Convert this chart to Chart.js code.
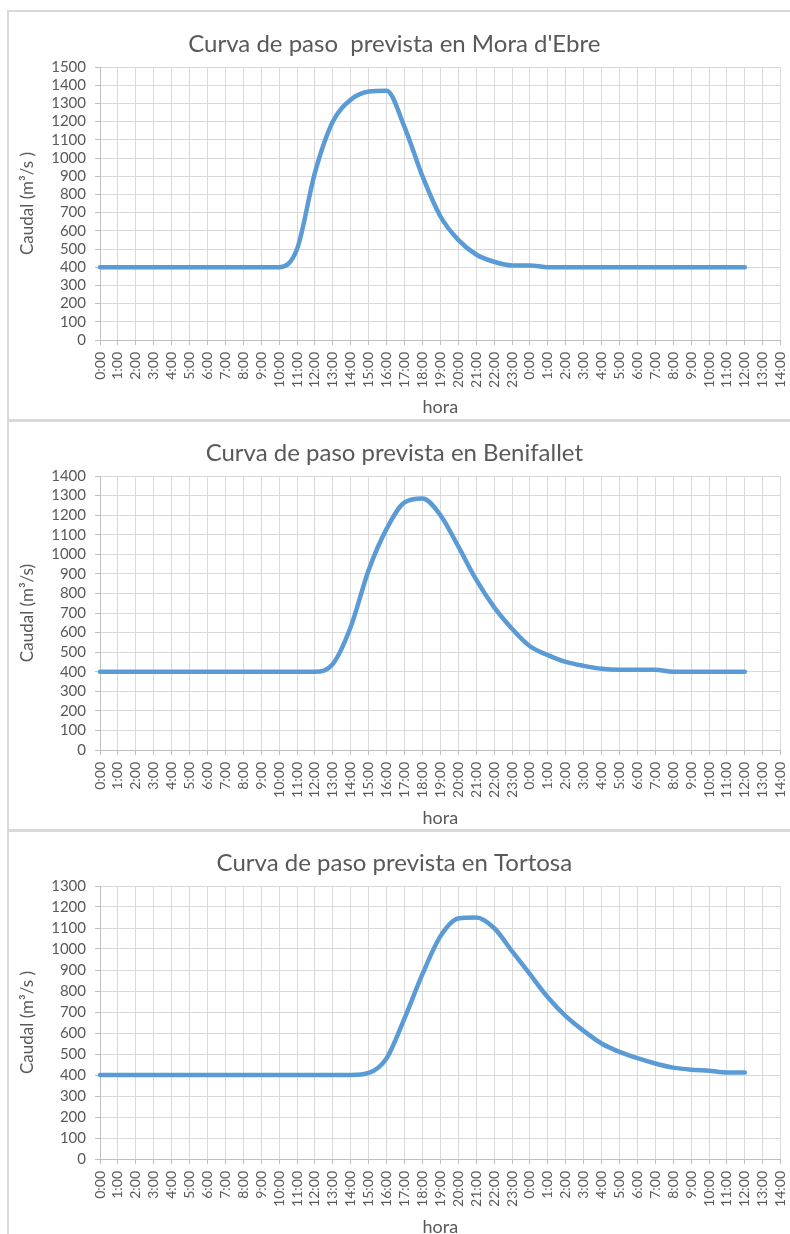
<!DOCTYPE html>
<html>
<head>
<meta charset="utf-8">
<script src="https://cdn.jsdelivr.net/npm/chart.js@4.4.1/dist/chart.umd.min.js"></script>
<style>
  html, body { margin: 0; padding: 0; background: #fff; overflow: hidden; }
  body { width: 790px; height: 1234px; position: relative; }
  .box { position: absolute; left: 7px; width: 800px; border: 2px solid #d9d9d9; box-sizing: border-box; }
  canvas { position: absolute; left: 8px; }
</style>
</head>
<body>
<div class="box" style="top:10px;height:411px;"></div>
<div class="box" style="top:420px;height:411px;"></div>
<div class="box" style="top:830px;height:420px;"></div>
<canvas id="c-mora" width="782" height="407" style="top:11px"></canvas>
<canvas id="c-beni" width="782" height="406" style="top:422px"></canvas>
<canvas id="c-tort" width="782" height="405" style="top:832px"></canvas>

<script>
/* ── Data ── */
const HOURS = [
  '0:00', '1:00', '2:00', '3:00', '4:00', '5:00', '6:00', '7:00', '8:00', '9:00',
  '10:00', '11:00', '12:00', '13:00', '14:00', '15:00', '16:00', '17:00', '18:00', '19:00',
  '20:00', '21:00', '22:00', '23:00',
  '0:00', '1:00', '2:00', '3:00', '4:00', '5:00', '6:00', '7:00', '8:00', '9:00',
  '10:00', '11:00', '12:00', '13:00', '14:00',
];

// Mora d'Ebre, m3/s per hour
const MORA = [
  400, 400, 400, 400, 400, 400, 400, 400, 400, 400,
  400, 500, 920, 1200, 1320, 1365, 1370, 1170, 900, 680,
  550, 470, 430, 410,
  410, 400, 400, 400, 400, 400, 400, 400, 400, 400,
  400, 400, 400,
];

// Benifallet
const BENI = [
  400, 400, 400, 400, 400, 400, 400, 400, 400, 400,
  400, 400, 400, 440, 630, 920, 1130, 1265, 1285, 1200,
  1040, 870, 730, 620,
  530, 485, 450, 430, 415, 410, 410, 410, 400, 400,
  400, 400, 400,
];

// Tortosa
const TORT = [
  400, 400, 400, 400, 400, 400, 400, 400, 400, 400,
  400, 400, 400, 400, 400, 410, 480, 670, 880, 1060,
  1145, 1150, 1100, 990,
  880, 770, 680, 610, 550, 510, 480, 455, 435, 425,
  420, 412, 412,
];

/* ── Shared look ── */
const FONT  = 'Lato, "Open Sans", sans-serif';
const TEXT  = '#595959';
const GRID  = '#d9d9d9';
const AXIS  = '#bfbfbf';
const BLUE  = '#5b9bd5';

const TITLE_SIZE = 24;
const HORA_SIZE  = 18;
const YT_SIZE    = 17;

function makeChart(id, opts) {
  const canvas = document.getElementById(id);
  const h = canvas.height;
  const tHalf = TITLE_SIZE * 1.2 / 2;

  new Chart(canvas, {
    type: 'line',
    data: {
      labels: HOURS,
      datasets: [{
        data:        opts.values,
        borderColor: BLUE,
        borderWidth: 4.5,
        pointRadius: 0,
        cubicInterpolationMode: 'monotone',
        borderJoinStyle: 'round',
        borderCapStyle:  'round',
        fill: false,
      }],
    },
    options: {
      responsive: false,
      animation:  false,
      layout: { padding: { left: 0, right: 9.3, top: 0, bottom: 0 } },
      plugins: {
        legend:  { display: false },
        tooltip: { enabled: false },
        title: {
          display: true,
          text:    opts.title,
          color:   TEXT,
          font:    { family: FONT, size: TITLE_SIZE, weight: 'normal', lineHeight: 1.2 },
          padding: { top: opts.titleMid - tHalf, bottom: opts.plotTop - opts.titleMid - tHalf },
        },
      },
      scales: {
        x: {
          grid:   { color: GRID, tickLength: 5, tickColor: AXIS },
          border: { color: AXIS },
          ticks: {
            color: TEXT,
            font:  { family: FONT, size: 14 },
            autoSkip:    false,
            minRotation: 90,
            maxRotation: 90,
            padding: 7,
          },
          title: {
            display: true,
            text:    'hora',
            color:   TEXT,
            font:    { family: FONT, size: HORA_SIZE, lineHeight: 1.2 },
            padding: { top: 0, bottom: opts.horaOffset - HORA_SIZE * 0.6 },
          },
          afterFit: s => {
            s.height = h - opts.plotBottom;
            s.paddingLeft = 0;
            s.paddingRight = 0;
          },
        },
        y: {
          min: 0,
          max: opts.yMax,
          grid:   { color: GRID, tickLength: 5, tickColor: AXIS },
          border: { color: AXIS },
          ticks: {
            stepSize: 100,
            autoSkip: false,
            color: TEXT,
            font:  { family: FONT, size: 15 },
            padding: 9,
            callback: v => String(v),
          },
          title: {
            display: true,
            text:    opts.yTitle,
            color:   TEXT,
            font:    { family: FONT, size: YT_SIZE, lineHeight: 1.2 },
            padding: { top: 20 - YT_SIZE * 0.6, bottom: 0 },
          },
          afterFit: s => { s.width = 92; },
        },
      },
    },
  });
}

makeChart('c-mora', {
  title: "Curva de paso  prevista en Mora d'Ebre",
  yTitle: 'Caudal (m\u00B3/s )',
  values: MORA, yMax: 1500,
  titleMid: 33, plotTop: 56, plotBottom: 329, horaOffset: 11,
});

makeChart('c-beni', {
  title: 'Curva de paso prevista en Benifallet',
  yTitle: 'Caudal (m\u00B3/s)',
  values: BENI, yMax: 1400,
  titleMid: 31, plotTop: 54, plotBottom: 328, horaOffset: 9.7,
});

makeChart('c-tort', {
  title: 'Curva de paso prevista en Tortosa',
  yTitle: 'Caudal (m\u00B3/s )',
  values: TORT, yMax: 1300,
  titleMid: 31, plotTop: 54, plotBottom: 327, horaOffset: 10.3,
});
</script>
</body>
</html>
